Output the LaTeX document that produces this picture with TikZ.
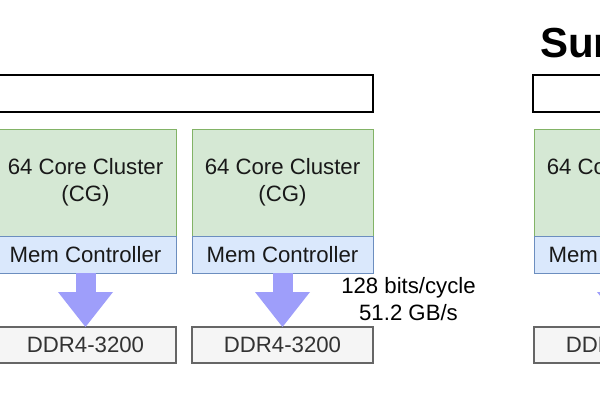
\documentclass[tikz,border=0pt]{standalone}
\usepackage{fontspec}
\setmainfont{Liberation Sans}
\usetikzlibrary{arrows.meta}

\definecolor{cgfill}{HTML}{D5E8D4}
\definecolor{cgline}{HTML}{82B366}
\definecolor{mcfill}{HTML}{DAE8FC}
\definecolor{mcline}{HTML}{6C8EBF}
\definecolor{ddrfill}{HTML}{F5F5F5}
\definecolor{ddrline}{HTML}{666666}
\definecolor{flowfill}{RGB}{158,158,250}

\tikzset{
  box/.style={rectangle, inner sep=0pt, outer sep=0pt, minimum width=181pt,
    align=center, text=black!90, font=\fontsize{22.2}{27}\selectfont},
  cgbox/.style={box, draw=cgline, fill=cgfill, line width=1pt, minimum height=107pt},
  mcbox/.style={box, draw=mcline, fill=mcfill, line width=1pt, minimum height=37pt},
  ddrbox/.style={box, draw=ddrline, fill=ddrfill, line width=1.3pt, minimum height=36pt, text=black!80},
  busbar/.style={rectangle, draw=black, fill=white, line width=1.4pt, inner sep=0pt,
    minimum height=37pt},
  flow/.style={draw=flowfill, line width=20pt,
    -{Triangle[length=35pt, width=55pt, line width=0pt, fill=flowfill]}}
}

\begin{document}
\begin{tikzpicture}[x=1pt, y=-1pt]
      \useasboundingbox (0,0) rectangle (600,400);
      \clip (0,0) rectangle (600,400);
      \node[anchor=base west, inner sep=0pt, font=\fontsize{42}{42}\selectfont\bfseries] (title) at (540, 57) {Sunway};
      \node[busbar, minimum width=383pt] (bar1) at (181.5, 93.5) {};
      \node[busbar, minimum width=300pt] (bar2) at (683, 93.5) {};
      \node[cgbox] (cg1) at (85.5, 182.5) {64 Core Cluster\\(CG)};
      \node[cgbox] (cg2) at (282.5, 182.5) {64 Core Cluster\\(CG)};
      \node[cgbox] (cg3) at (624.5, 182.5) {64 Core Cluster\\(CG)};
      \node[mcbox] (mc1) at (85.5, 254.5) {Mem Controller};
      \node[mcbox] (mc2) at (282.5, 254.5) {Mem Controller};
      \node[mcbox] (mc3) at (624.5, 254.5) {Mem Controller};
      \node[ddrbox] (ddr1) at (85.5, 345) {DDR4-3200};
      \node[ddrbox] (ddr2) at (282.5, 345) {DDR4-3200};
      \node[ddrbox] (ddr3) at (624.5, 345) {DDR4-3200};
      \draw[flow] (mc1.south) -- (ddr1.north);
      \draw[flow] (mc2.south) -- (ddr2.north);
      \draw[flow] (mc3.south) -- (ddr3.north);
      \node[align=center, inner sep=0pt, font=\fontsize{22.2}{27}\selectfont] (bw) at (408.5, 299.5) {128 bits/cycle\\51.2 GB/s};
   \end{tikzpicture}
\end{document}
